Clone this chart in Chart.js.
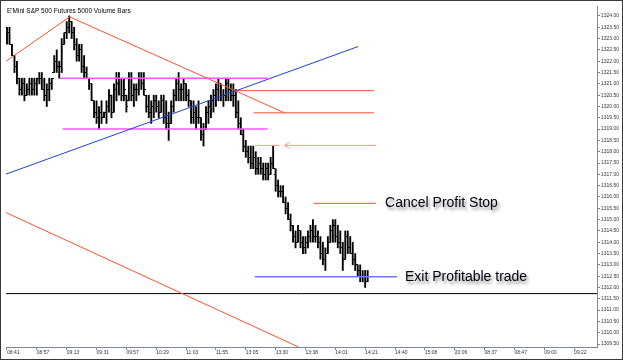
<!DOCTYPE html>
<html lang="en">
<head>
<meta charset="UTF-8" />
<title>E'Mini S&amp;P 500 Futures 5000 Volume Bars</title>
<script src="https://cdn.jsdelivr.net/npm/chart.js@4/dist/chart.umd.min.js"></script>
<style>
  html, body { margin: 0; padding: 0; background: #fff; }
  #frame { width: 623px; height: 360px; box-sizing: border-box; border: 1px solid #3a3a3a; }
  canvas { display: block; }
</style>
</head>
<body>
<div id="frame"><canvas id="chart" width="621" height="358"></canvas></div>
<script>
const chartTitle = "E'Mini S&P 500 Futures 5000 Volume Bars";

// one OHLC bar per 5000 contracts
const highs = [
  1323.50, 1323.50, 1322.75, 1322.25, 1322.00, 1321.25, 1321.25, 1321.25, 1321.00, 1321.25,
  1321.25, 1321.25, 1321.25, 1321.50, 1321.50, 1321.25, 1321.00, 1321.25, 1321.25, 1322.25,
  1322.50, 1322.00, 1323.00, 1323.25, 1323.75, 1324.00, 1323.75, 1323.50, 1323.00, 1322.75,
  1322.75, 1322.25, 1321.75, 1321.25, 1321.00, 1320.25, 1320.25, 1320.00, 1320.25, 1319.75,
  1320.25, 1320.75, 1320.50, 1321.00, 1321.50, 1321.50, 1321.25, 1321.25, 1320.50, 1321.50,
  1321.50, 1321.00, 1321.00, 1321.50, 1321.50, 1321.50, 1320.50, 1320.50, 1320.25, 1320.50,
  1320.50, 1320.25, 1320.50, 1320.50, 1320.25, 1319.75, 1320.25, 1320.75, 1321.25, 1321.50,
  1321.00, 1321.25, 1321.00, 1320.75, 1320.25, 1320.25, 1320.00, 1320.25, 1319.50, 1319.25,
  1320.00, 1320.25, 1320.50, 1320.75, 1321.00, 1321.25, 1321.00, 1320.75, 1321.25, 1321.25,
  1321.00, 1321.00, 1320.75, 1320.25, 1319.50, 1319.00, 1318.50, 1318.25, 1318.25, 1318.25,
  1318.00, 1317.75, 1317.75, 1317.50, 1317.50, 1317.50, 1317.75, 1318.25, 1317.25, 1316.75,
  1316.50, 1316.50, 1316.00, 1315.75, 1315.25, 1314.75, 1314.50, 1314.75, 1314.50, 1314.25,
  1314.25, 1314.50, 1314.75, 1315.00, 1314.75, 1314.50, 1314.25, 1314.00, 1313.75, 1314.25,
  1314.75, 1315.00, 1315.00, 1314.75, 1314.50, 1314.00, 1314.50, 1314.50, 1314.25, 1314.00,
  1313.50, 1313.00, 1313.00, 1312.75, 1312.75, 1312.75
];
const lows = [
  1322.75, 1322.75, 1322.25, 1321.50, 1321.00, 1320.50, 1320.50, 1320.25, 1320.50, 1320.50,
  1320.50, 1320.50, 1320.50, 1321.00, 1320.75, 1320.25, 1320.00, 1320.25, 1320.75, 1321.50,
  1321.50, 1321.25, 1321.50, 1322.75, 1323.00, 1323.25, 1323.00, 1322.50, 1322.00, 1322.00,
  1321.50, 1321.25, 1321.25, 1320.75, 1320.25, 1319.50, 1319.25, 1319.00, 1319.25, 1319.50,
  1319.25, 1319.75, 1319.50, 1319.75, 1320.25, 1320.50, 1320.25, 1320.25, 1319.75, 1320.25,
  1320.25, 1320.00, 1320.25, 1320.50, 1320.75, 1320.50, 1319.75, 1319.50, 1319.25, 1319.50,
  1319.75, 1319.50, 1319.75, 1319.25, 1319.00, 1318.50, 1319.25, 1319.75, 1320.25, 1320.25,
  1320.25, 1320.25, 1320.25, 1320.00, 1319.25, 1319.25, 1319.00, 1319.25, 1318.50, 1318.25,
  1319.00, 1319.25, 1319.50, 1319.75, 1320.00, 1320.25, 1320.25, 1320.00, 1320.25, 1320.25,
  1320.25, 1320.00, 1319.50, 1319.00, 1318.75, 1318.00, 1317.75, 1317.50, 1317.25, 1317.25,
  1317.00, 1317.00, 1317.00, 1316.75, 1316.75, 1316.75, 1317.00, 1317.25, 1316.25, 1316.00,
  1316.00, 1315.75, 1315.25, 1315.00, 1314.50, 1314.00, 1313.75, 1314.00, 1313.75, 1313.50,
  1313.50, 1313.75, 1314.00, 1314.00, 1314.00, 1313.75, 1313.25, 1313.00, 1312.75, 1313.50,
  1314.00, 1314.00, 1314.00, 1313.75, 1313.50, 1312.75, 1313.25, 1313.50, 1313.50, 1313.00,
  1312.75, 1312.50, 1312.25, 1312.25, 1312.00, 1312.25
];
const opens = [
  1323.00, 1323.25, 1322.75, 1322.25, 1321.75, 1321.25, 1320.75, 1321.00, 1320.50, 1320.75,
  1321.00, 1320.75, 1321.00, 1321.25, 1321.25, 1320.75, 1320.50, 1320.75, 1321.00, 1321.50,
  1322.00, 1321.75, 1321.75, 1322.75, 1323.25, 1323.50, 1323.75, 1323.25, 1322.75, 1322.25,
  1322.50, 1321.75, 1321.50, 1321.25, 1321.00, 1320.25, 1319.75, 1319.50, 1319.75, 1319.50,
  1319.75, 1320.00, 1320.50, 1319.75, 1320.75, 1321.00, 1321.25, 1320.50, 1320.50, 1320.25,
  1321.25, 1320.50, 1320.75, 1320.75, 1321.25, 1321.00, 1320.50, 1320.00, 1319.75, 1320.00,
  1320.25, 1320.00, 1319.75, 1320.25, 1319.50, 1319.25, 1319.25, 1320.00, 1320.50, 1321.00,
  1320.75, 1320.75, 1321.00, 1320.50, 1320.25, 1319.50, 1319.75, 1319.50, 1319.50, 1318.75,
  1319.00, 1319.75, 1320.00, 1320.25, 1320.50, 1320.75, 1321.00, 1320.50, 1320.50, 1321.00,
  1320.75, 1320.50, 1320.50, 1319.75, 1319.25, 1318.75, 1318.25, 1318.00, 1317.75, 1317.50,
  1317.75, 1317.25, 1317.50, 1317.25, 1317.00, 1317.25, 1317.00, 1317.50, 1317.00, 1316.50,
  1316.25, 1316.25, 1315.75, 1315.50, 1315.00, 1314.75, 1314.25, 1314.00, 1314.50, 1314.00,
  1313.75, 1314.00, 1314.25, 1314.50, 1314.25, 1314.25, 1314.00, 1313.50, 1313.25, 1313.50,
  1314.00, 1314.50, 1314.75, 1314.25, 1314.00, 1313.75, 1313.25, 1314.25, 1313.75, 1313.50,
  1313.25, 1313.00, 1312.75, 1312.50, 1312.50, 1312.25
];
const closes = [
  1323.25, 1322.75, 1322.25, 1321.75, 1321.25, 1320.75, 1321.00, 1320.50, 1320.75, 1321.00,
  1320.75, 1321.00, 1321.25, 1321.25, 1320.75, 1320.50, 1320.75, 1321.00, 1321.25, 1322.00,
  1321.75, 1321.75, 1322.75, 1323.25, 1323.50, 1323.75, 1323.25, 1322.75, 1322.25, 1322.50,
  1321.75, 1321.50, 1321.25, 1321.00, 1320.25, 1319.75, 1319.50, 1319.75, 1319.50, 1319.75,
  1320.00, 1320.50, 1319.75, 1320.75, 1321.00, 1321.25, 1320.50, 1320.75, 1320.00, 1321.25,
  1320.50, 1320.75, 1320.75, 1321.25, 1321.00, 1320.75, 1320.00, 1319.75, 1320.00, 1320.25,
  1320.00, 1319.75, 1320.25, 1319.50, 1319.25, 1319.25, 1320.00, 1320.50, 1321.00, 1320.75,
  1320.75, 1321.00, 1320.50, 1320.25, 1319.50, 1319.75, 1319.50, 1319.50, 1318.75, 1319.00,
  1319.75, 1320.00, 1320.25, 1320.50, 1320.75, 1321.00, 1320.50, 1320.50, 1321.00, 1320.75,
  1320.50, 1320.50, 1319.75, 1319.25, 1318.75, 1318.25, 1318.00, 1317.75, 1317.50, 1317.75,
  1317.25, 1317.50, 1317.25, 1317.00, 1317.25, 1317.00, 1317.50, 1317.25, 1316.50, 1316.25,
  1316.25, 1315.75, 1315.50, 1315.00, 1314.75, 1314.25, 1314.00, 1314.50, 1314.00, 1313.75,
  1314.00, 1314.25, 1314.50, 1314.25, 1314.25, 1314.00, 1313.50, 1313.25, 1313.50, 1314.00,
  1314.50, 1314.75, 1314.25, 1314.00, 1313.75, 1313.25, 1314.25, 1313.75, 1313.50, 1313.25,
  1313.00, 1312.75, 1312.50, 1312.50, 1312.25, 1312.50
];

const timeLabels = ["08:41", "08:57", "09:13", "09:31", "09:57", "10:29", "11:03", "11:55", "13:05", "13:30",
                    "13:38", "14:01", "14:21", "14:40", "15:08", "20:06", "08:37", "08:47", "09:00", "09:22"];
const barsPerLabel = 12;
const priceTicks = [1309.5, 1310, 1310.5, 1311, 1311.5, 1312, 1312.5, 1313, 1313.5, 1314, 1314.5, 1315,
                    1315.5, 1316, 1316.5, 1317, 1317.5, 1318, 1318.5, 1319, 1319.5, 1320, 1320.5,
                    1321, 1321.5, 1322, 1322.5, 1323, 1323.5, 1324];

// hand drawn lines as [bar index, price] pairs
const riseLine = [[-0.4, 1322.0], [25.2, 1323.96]];
const fallLine = [[25.2, 1323.96], [111.6, 1319.72]];
const lowerChannel = [[-0.4, 1315.31], [117.2, 1309.37]];
const blueTrend = [[-0.4, 1317.01], [141.2, 1322.65]];
const pinkTop = [[21.2, 1321.25], [104.8, 1321.25]];
const pinkBottom = [[22.4, 1319.0], [104.8, 1319.0]];
const levelA = [[91.6, 1320.7], [147.6, 1320.7]];
const levelB = [[99.2, 1319.72], [147.6, 1319.72]];
const stopShort = [[99.6, 1318.28], [109.6, 1318.28]];
const stopLong = [[111.6, 1318.28], [148.4, 1318.28]];
const stopArrow = [[113.6, 1318.41], [111.6, 1318.28], [113.6, 1318.15]];
const cancelLevel = [[123.2, 1315.72], [148.4, 1315.72]];
const exitLevel = [[99.6, 1312.47], [156.8, 1312.47]];
const baseLevel = [[-0.4, 1311.73], [237.2, 1311.73]];

const notes = [
    { text: "Cancel Profit Stop", at: [152.0, 1315.72] },
    { text: "Exit Profitable trade", at: [160.0, 1312.47] }
];

Chart.defaults.font.family = "'Liberation Sans', Arial, sans-serif";

function pts(arr) {
    return arr.map(p => ({ x: p[0], y: p[1] }));
}

function lineSet(arr, color, width) {
    return {
        type: "line",
        data: pts(arr),
        borderColor: color,
        borderWidth: width || 1,
        pointRadius: 0,
        tension: 0,
        fill: false,
        order: 1
    };
}

// little open / close ticks, used as point images
function tickMark(side) {
    const c = document.createElement("canvas");
    c.width = 4;
    c.height = 1;
    const g = c.getContext("2d");
    g.fillStyle = "#000";
    g.fillRect(side == "left" ? 0 : 2, 0, 2, 1);
    return c;
}

const notesPlugin = {
    id: "notes",
    afterDatasetsDraw(chart) {
        const { ctx, chartArea } = chart;
        const x = chart.scales.x;
        const y = chart.scales.y;
        ctx.save();
        ctx.fillStyle = "#000";
        ctx.textBaseline = "middle";
        ctx.font = "6.5px 'Liberation Sans'";
        ctx.fillText(chartTitle, chartArea.left + 1, chartArea.top + 5);

        ctx.font = "14px 'Liberation Sans'";
        ctx.fillStyle = "#000010";
        ctx.shadowColor = "rgba(0, 0, 0, 0.45)";
        ctx.shadowBlur = 3;
        ctx.shadowOffsetX = 2;
        ctx.shadowOffsetY = 3;
        for (const n of notes) {
            ctx.fillText(n.text, x.getPixelForValue(n.at[0]), y.getPixelForValue(n.at[1]));
        }
        ctx.restore();
    }
};

const axisColor = "#8088a8";

new Chart("chart", {
    type: "bar",
    data: {
        datasets: [
            {
                type: "bar",
                data: highs.map((h, i) => ({ x: i, y: [lows[i], h] })),
                backgroundColor: "#000",
                barThickness: 1.2,
                grouped: false,
                order: 3
            },
            {
                type: "line",
                data: opens.map((v, i) => ({ x: i, y: v })),
                showLine: false,
                pointStyle: tickMark("left"),
                pointRadius: 1,
                order: 2
            },
            {
                type: "line",
                data: closes.map((v, i) => ({ x: i, y: v })),
                showLine: false,
                pointStyle: tickMark("right"),
                pointRadius: 1,
                order: 2
            },
            lineSet(riseLine, "#ff5030"),
            lineSet(fallLine, "#ff5030"),
            lineSet(lowerChannel, "#ff5030"),
            lineSet(blueTrend, "#2242dd"),
            lineSet(pinkTop, "#ff55ff", 1.5),
            lineSet(pinkBottom, "#ff55ff", 1.5),
            lineSet(levelA, "#ff5030"),
            lineSet(levelB, "#ff5030"),
            lineSet(stopShort, "#ff9a8a"),
            lineSet(stopLong, "#ff9a8a"),
            lineSet(stopArrow, "#ff9a8a"),
            lineSet(cancelLevel, "#ff5030"),
            lineSet(exitLevel, "#7078f0", 1.5),
            lineSet(baseLevel, "#000")
        ]
    },
    options: {
        responsive: false,
        animation: false,
        events: [],
        layout: { padding: { left: 2, top: 1, right: 0, bottom: 0 } },
        plugins: {
            legend: { display: false },
            tooltip: { enabled: false }
        },
        scales: {
            x: {
                type: "linear",
                min: -0.4,
                max: 237.2,
                offset: false,
                afterBuildTicks: (s) => {
                    s.ticks = timeLabels.map((t, k) => ({ value: k * barsPerLabel }));
                },
                afterFit: (s) => { s.height = 12; },
                grid: { drawOnChartArea: false, offset: false, tickLength: 3, color: axisColor },
                border: { color: axisColor },
                ticks: {
                    autoSkip: false,
                    maxRotation: 0,
                    align: "start",
                    padding: 0,
                    color: "#333",
                    font: { size: 5 },
                    callback: (v, i) => timeLabels[i]
                }
            },
            y: {
                position: "right",
                beginAtZero: false,
                min: 1309.37,
                max: 1324.44,
                afterBuildTicks: (s) => {
                    s.ticks = priceTicks.map(v => ({ value: v }));
                },
                afterFit: (s) => { s.width = 25; },
                grid: { drawOnChartArea: false, tickLength: 3, color: axisColor },
                border: { color: axisColor },
                ticks: {
                    autoSkip: false,
                    padding: 1,
                    color: "#333",
                    font: { size: 5 },
                    callback: (v) => v.toFixed(2)
                }
            }
        }
    },
    plugins: [notesPlugin]
});
</script>
</body>
</html>
